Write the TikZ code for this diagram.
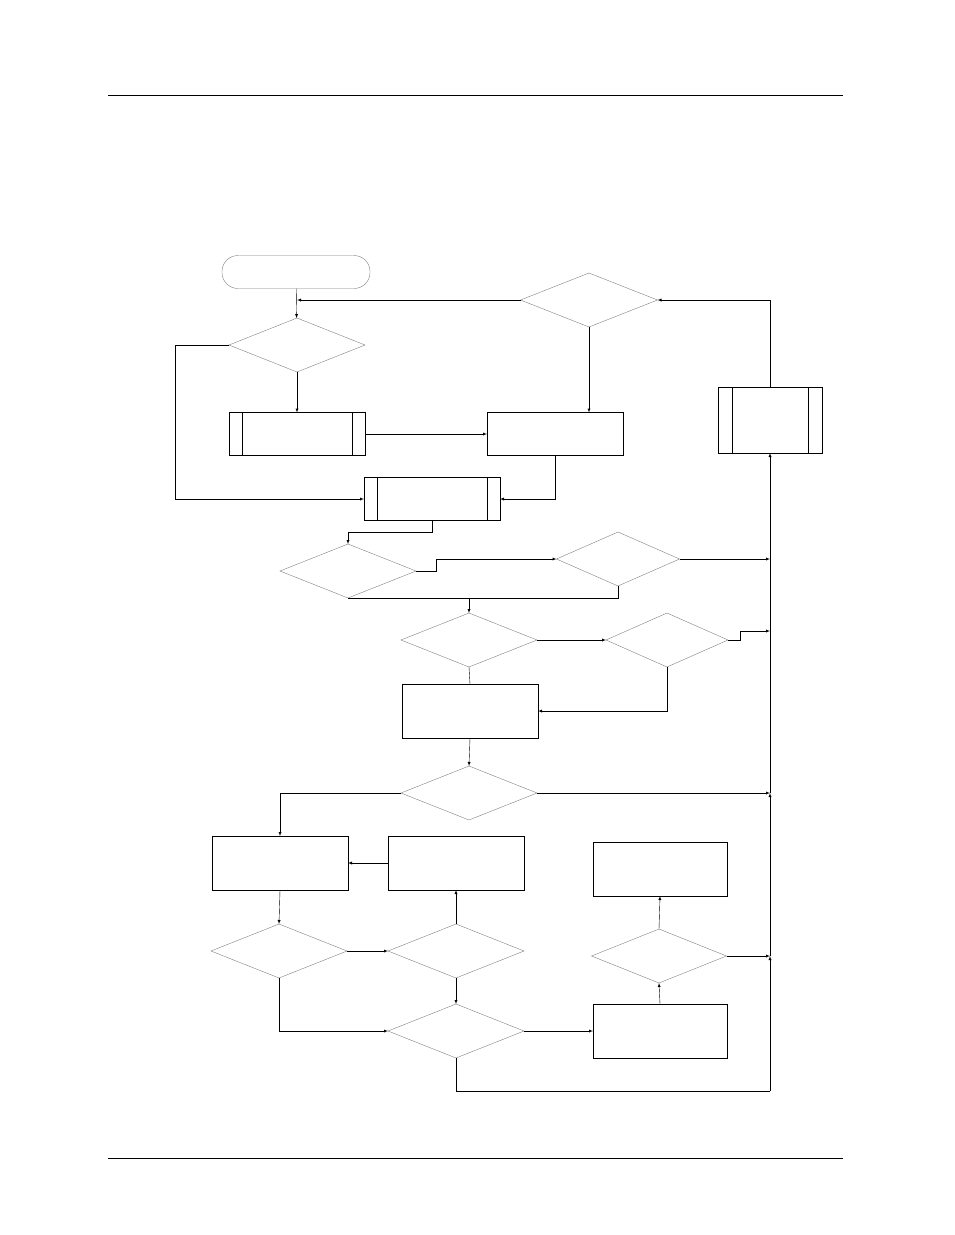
\documentclass[tikz,border=0pt]{standalone}
\usetikzlibrary{shapes.geometric,positioning}
\begin{document}
\begin{tikzpicture}
	[x=1pt,y=-1pt,>=latex,
	every node/.style={inner sep=0pt,outer sep=0pt},
	dec/.style={diamond,draw=gray,minimum width=136pt,minimum height=54pt},
	box/.style={rectangle,draw,minimum width=136pt,minimum height=54pt},
	pre/.style={rectangle,draw,minimum width=136pt,minimum height=43pt},
	conn/.style={->,thin}]
	\useasboundingbox (0,0) rectangle (954,1235);
	\draw (108,95) -- (843,95);
	\draw (108,1158) -- (843,1158);
	% top part
	\node (start) [rectangle,rounded corners=16pt,draw=gray,minimum width=148pt,minimum height=33pt] at (296,272) {};
	\node (d1) [dec] at (297,345) {};
	\node (d2) [dec,minimum height=54pt,minimum width=137pt] at (589,300) {};
	\node (p1) [pre] at (297,434) {};
	\node (b1) [box,minimum height=43pt] at (555,434) {};
	\node (p2) [pre] at (432,499) {};
	\node (p3) [pre,minimum width=104pt,minimum height=66pt] at (770,420) {};
	\foreach \n/\s in {p1/13,p2/13,p3/14}
	{
		\draw ([xshift=\s]\n.north west) -- ([xshift=\s]\n.south west);
		\draw ([xshift=-\s]\n.north east) -- ([xshift=-\s]\n.south east);
	}
	% middle part
	\node (d3) [dec] at (348,571) {};
	\node (d4) [dec,minimum width=123pt] at (618,559) {};
	\node (d5) [dec] at (469,640) {};
	\node (d6) [dec,minimum width=122pt] at (667,640) {};
	\node (b2) [box] at (470,711) {};
	\node (d7) [dec] at (469,793) {};
	% bottom part
	\node (b3) [box] at (280,863) {};
	\node (b4) [box] at (456,863) {};
	\node (b5) [box,minimum width=134pt] at (660,869) {};
	\node (d8) [dec] at (279,951) {};
	\node (d9) [dec] at (456,951) {};
	\node (d10) [dec,minimum width=135pt] at (659,956) {};
	\node (d11) [dec] at (456,1031) {};
	\node (b6) [box,minimum width=134pt] at (660,1031) {};
	\coordinate (t1) at (770,559);
	\coordinate (t2) at (770,631);
	\coordinate (t3) at (770,793);
	\coordinate (t4) at (770,956);
	\coordinate (t5) at (770,1091);
	% connectors
	\draw [conn] (start) -- (d1);
	\draw [conn] (d2.west) -- (297,300);
	\draw [conn] (p3.north) |- (d2.east);
	\draw [conn] (d1.south) -- (p1.north);
	\draw [conn] (d1.west) -| (175,499) -- (p2.west);
	\draw [conn] (d2.south) -- (b1.north -| d2.south);
	\draw [conn] (p1.east) -- (b1.west);
	\draw [conn] (b1.south) |- (p2.east);
	\draw [conn] (p2.south) |- (348,532) -- (d3.north);
	\draw [conn] (d3.east) -- (436,571) |- (d4.west);
	\draw (d3.south) -- (d3.south -| d4.south) -- (d4.south);
	\draw [conn] (469,598) -- (d5.north);
	\draw [conn] (d4.east) -- (t1);
	\draw [conn] (d5.east) -- (d6.west);
	\draw [conn] (d6.east) -- (740,640) |- (t2);
	\draw [conn] (d6.south) |- (b2.east);
	\draw (d5.south) -- (b2.north);
	\draw [conn] (b2.south) -- (d7.north);
	\draw [conn] (d7.east) -- (t3);
	\draw [conn] (d7.west) -| (b3.north);
	\draw [conn] (b4.west) -- (b3.east);
	\draw [conn] (b3.south) -- (d8.north);
	\draw [conn] (d8.east) -- (d9.west);
	\draw [conn] (d9.north) -- (b4.south);
	\draw [conn] (d8.south) |- (d11.west);
	\draw [conn] (d9.south) -- (d11.north);
	\draw [conn] (d11.east) -- (b6.west);
	\draw [conn] (b6.north) -- (d10.south);
	\draw [conn] (d10.north) -- (b5.south);
	\draw [conn] (d10.east) -- (t4);
	\draw (d11.south) |- (t5);
	\draw [conn] (t5) -- (t4);
	\draw [conn] (t4) -- (t3);
	\draw [conn] (t3) -- (p3.south);
\end{tikzpicture}
\end{document}
